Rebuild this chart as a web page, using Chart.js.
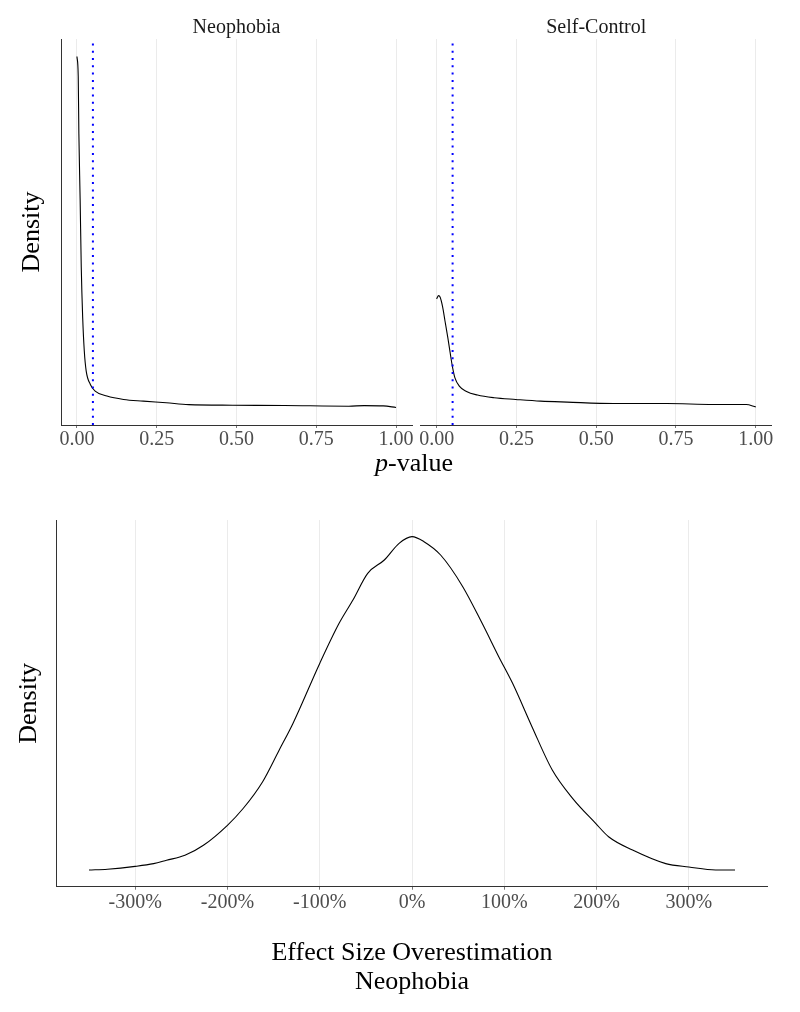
<!DOCTYPE html>
<html>
<head>
<meta charset="utf-8">
<script src="https://cdn.jsdelivr.net/npm/chart.js@4.4.0/dist/chart.umd.min.js"></script>
<style>
  html, body { margin: 0; padding: 0; background: #fff; }
  body { width: 800px; height: 1012px; position: relative; overflow: hidden; }
  canvas { position: absolute; }
  .xtitle {
    position: absolute; left: 0; width: 828px; top: 448px; text-align: center;
    font-family: "Liberation Serif", "Times New Roman", serif; font-size: 26px;
    line-height: 30px; color: #000;
  }
</style>
</head>
<body>
<canvas id="neo" width="416" height="480" style="left:0;top:0"></canvas>
<canvas id="self" width="384" height="480" style="left:416px;top:0"></canvas>
<div class="xtitle"><i>p</i>-value</div>
<canvas id="effect" width="800" height="512" style="left:0;top:500px"></canvas>
<script>
// p-value densities, one facet per study
const pTicks = [0, 0.25, 0.5, 0.75, 1];
const pTickLabels = ["0.00", "0.25", "0.50", "0.75", "1.00"];
const cutoff = 0.05;

const neoP = [0, 0.004, 0.006, 0.010, 0.0135, 0.018, 0.023, 0.029, 0.042, 0.057, 0.094,
  0.146, 0.208, 0.28, 0.35, 0.488, 0.65, 0.852, 0.90, 0.96, 1.0];
const neoDensity = [25.5, 24.1, 20.0, 15.3, 10.5, 6.9, 4.55, 3.12, 2.17, 1.69, 1.34,
  1.10, 0.98, 0.86, 0.73, 0.69, 0.67, 0.62, 0.66, 0.64, 0.53];

const selfP = [0, 0.006, 0.011, 0.019, 0.026, 0.035, 0.043, 0.050, 0.057, 0.071, 0.092,
  0.128, 0.18, 0.248, 0.326, 0.409, 0.555, 0.721, 0.867, 0.97, 1.0];
const selfDensity = [8.25, 8.49, 8.37, 7.65, 6.7, 5.5, 4.32, 3.36, 2.65, 2.05, 1.69,
  1.41, 1.22, 1.10, 0.98, 0.91, 0.81, 0.81, 0.74, 0.74, 0.57];

// effect size overestimation (%)
const esTicks = [-300, -200, -100, 0, 100, 200, 300];
const esTickLabels = ["-300%", "-200%", "-100%", "0%", "100%", "200%", "300%"];
const esX = [-350, -330, -300, -280, -266, -246, -226, -200, -183, -162, -144, -129,
  -100, -79, -64, -48, -30, -14, 0, 13, 31, 55, 76, 94, 109, 130, 152, 174, 199,
  213, 239, 275, 300, 329, 350];
const esDensity = [0.004, 0.005, 0.0084, 0.0117, 0.0157, 0.0217, 0.0337, 0.0577, 0.0778,
  0.1097, 0.1478, 0.1799, 0.2519, 0.300, 0.328, 0.360, 0.376, 0.396, 0.404, 0.398, 0.382,
  0.344, 0.300, 0.260, 0.228, 0.176, 0.124, 0.090, 0.060, 0.044, 0.028, 0.0117,
  0.0076, 0.004, 0.004];

const serif = '"Liberation Serif", "Times New Roman", serif';
Chart.defaults.font.family = serif;
Chart.defaults.color = "#4d4d4d";

// ggplot-like 5% expansion of the data range
function expand(vals) {
  const lo = Math.min(...vals), hi = Math.max(...vals);
  const pad = (hi - lo) * 0.05;
  return [lo - pad, hi + pad];
}

const [pMin, pMax] = expand(neoP.concat(selfP));
const [dMin, dMax] = expand(neoDensity.concat(selfDensity));
const [esMin, esMax] = expand(esX);
const [eMin, eMax] = expand(esDensity);

const toPts = (xs, ys) => xs.map((x, i) => ({ x: x, y: ys[i] }));
const fixTicks = (vals) => (scale) => { scale.ticks = vals.map(v => ({ value: v })); };

const gridOpts = { color: "#ebebeb", lineWidth: 1, tickLength: 3, tickColor: "#777" };
const axisLine = { display: true, color: "#333", width: 1 };
const noPlugins = { legend: { display: false }, tooltip: { enabled: false } };

function densityTitle(pad) {
  return { display: true, text: "Density", color: "#000",
    font: { size: 26, lineHeight: 1.2 }, padding: { top: pad, bottom: 0 } };
}

function pPanel(id, title, xs, ys, showY, padding) {
  const yScale = showY
    ? { min: dMin, max: dMax, afterFit: s => { s.width = 61; },
        ticks: { display: false }, grid: { display: false }, border: axisLine,
        title: densityTitle(16.4) }
    : { display: false, min: dMin, max: dMax };

  return new Chart(document.getElementById(id), {
    type: "line",
    data: {
      datasets: [
        { data: [{ x: cutoff, y: dMin }, { x: cutoff, y: dMax }],
          borderColor: "#0000ff", borderWidth: 2, borderDash: [2, 5.3], pointRadius: 0 },
        { data: toPts(xs, ys), borderColor: "#000", borderWidth: 1.1, pointRadius: 0,
          cubicInterpolationMode: "monotone" }
      ]
    },
    options: {
      responsive: false,
      animation: false,
      events: [],
      layout: { padding: padding },
      plugins: Object.assign({
        title: { display: true, text: title, fullSize: false, color: "#1a1a1a",
          font: { size: 20, weight: "normal", lineHeight: 1.1 },
          padding: { top: 17, bottom: 0 } }
      }, noPlugins),
      scales: {
        x: {
          type: "linear", min: pMin, max: pMax,
          afterBuildTicks: fixTicks(pTicks),
          afterFit: s => { s.height = 55; },
          ticks: { callback: (v, i) => pTickLabels[i], font: { size: 20 }, color: "#4d4d4d",
            padding: 0, maxRotation: 0, autoSkip: false },
          grid: gridOpts,
          border: axisLine
        },
        y: yScale
      }
    }
  });
}

pPanel("neo", "Neophobia", neoP, neoDensity, true, { left: 0, right: 4, top: 0, bottom: 0 });
pPanel("self", "Self-Control", selfP, selfDensity, false, { left: 4.7, right: 28.3, top: 0, bottom: 0 });

new Chart(document.getElementById("effect"), {
  type: "line",
  data: {
    datasets: [{ data: toPts(esX, esDensity), borderColor: "#000", borderWidth: 1.1,
      pointRadius: 0, cubicInterpolationMode: "monotone" }]
  },
  options: {
    responsive: false,
    animation: false,
    events: [],
    layout: { padding: { left: 0, top: 20, right: 32.7, bottom: 0 } },
    plugins: noPlugins,
    scales: {
      x: {
        type: "linear", min: esMin, max: esMax,
        afterBuildTicks: fixTicks(esTicks),
        afterFit: s => { s.height = 125.3; },
        ticks: { callback: (v, i) => esTickLabels[i], font: { size: 20 }, color: "#4d4d4d",
          padding: 1, maxRotation: 0, autoSkip: false },
        grid: gridOpts,
        border: axisLine,
        title: { display: true, text: ["Effect Size Overestimation", "Neophobia"], color: "#000",
          font: { size: 26, lineHeight: 1.1 }, padding: { top: 0, bottom: 16 } }
      },
      y: {
        min: eMin, max: eMax,
        afterFit: s => { s.width = 56.7; },
        ticks: { display: false },
        grid: { display: false },
        border: axisLine,
        title: densityTitle(13.4)
      }
    }
  }
});
</script>
</body>
</html>
